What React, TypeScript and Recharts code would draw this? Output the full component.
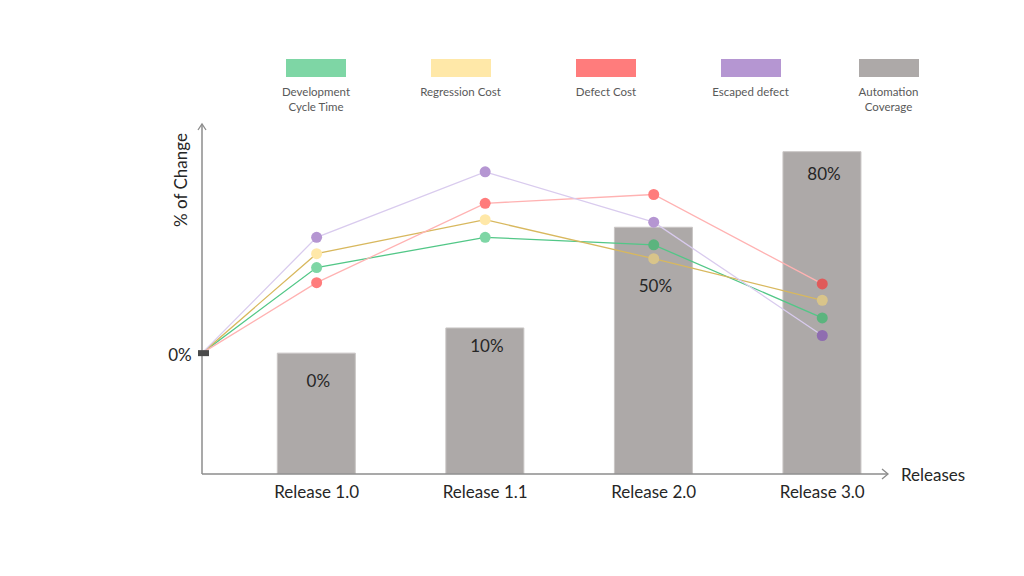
import React from 'react';
import { ComposedChart, Bar, Line, XAxis, YAxis, Legend, LabelList } from 'recharts';

// ---- data ----
const RELEASES = ['Release 1.0', 'Release 1.1', 'Release 2.0', 'Release 3.0'];
const AUTOMATION_COVERAGE = [0, 10, 50, 80];
const DEV_CYCLE_TIME = [34, 46, 43, 14];
const REGRESSION_COST = [39.5, 53, 37.5, 21];
const DEFECT_COST = [28, 59.5, 63, 27.5];
const ESCAPED_DEFECT = [46, 72, 52, 7];
const Y_TICKS = [0];
const BAR_FLOOR = -48; // value at the x axis (bottom of the bars)
const Y_TOP = 91;
const X_START = 0.32; // where the lines start, on the y axis
const X_END = 4.39;

const FONT = 'Lato, "Open Sans", sans-serif';

const SERIES = [
  { key: 'dev', name: 'Development\nCycle Time', values: DEV_CYCLE_TIME, line: '#52c787', dot: '#7ed6a5', dotDark: '#5bb47e' },
  { key: 'reg', name: 'Regression Cost', values: REGRESSION_COST, line: '#d8b85e', dot: '#ffe8a8', dotDark: '#d8c48a' },
  { key: 'def', name: 'Defect Cost', values: DEFECT_COST, line: '#ffb2b2', dot: '#ff7c7c', dotDark: '#e05a5a' },
  { key: 'esc', name: 'Escaped defect', values: ESCAPED_DEFECT, line: '#d9cbee', dot: '#b596d2', dotDark: '#8f6db0' },
];
const BAR_NAME = 'Automation\nCoverage';
const BAR_COLOR = '#ada9a8';

const origin: any = { x: X_START, name: '', coverage: null, range: null };
SERIES.forEach((s) => (origin[s.key] = 0));
const data: any[] = [origin].concat(
  RELEASES.map((name, i) => {
    const row: any = { x: i + 1, name, coverage: AUTOMATION_COVERAGE[i], range: [BAR_FLOOR, AUTOMATION_COVERAGE[i]] };
    SERIES.forEach((s) => (row[s.key] = s.values[i]));
    return row;
  })
);

const labelDrop: Record<number, number> = { 0: 27, 10: 18, 50: 58, 80: 22 };

const makeDot = (s: any) => (props: any) => {
  const { cx, cy, payload, index } = props;
  if (payload.x === X_START || cx == null) return <g key={`d-${s.key}-${index}`} />;
  const inside = payload.coverage != null && payload[s.key] < payload.coverage;
  return <circle key={`d-${s.key}-${index}`} cx={cx} cy={cy} r={5.5} fill={inside ? s.dotDark : s.dot} stroke="none" />;
};

const renderBarLabel = (props: any) => {
  const { x, y, width, value } = props;
  if (value == null) return null;
  const drop = labelDrop[value] ?? 22;
  return (
    <text x={x + width / 2 + 2} y={y + drop} textAnchor="middle" dominantBaseline="central" fontSize={17} fontFamily={FONT} fill="#262626">
      {`${value}%`}
    </text>
  );
};

const renderXTick = (props: any) => {
  const { x, payload, viewBox } = props;
  const axisY = props.y;
  return (
    <text x={x} y={axisY + 17} textAnchor="middle" dominantBaseline="central" fontSize={17} fontFamily={FONT} fill="#262626">
      {RELEASES[payload.value - 1]}
    </text>
  );
};

const renderYTick = (props: any) => {
  const { x, y, payload } = props;
  return (
    <g>
      <rect x={x - 4} y={y - 3} width={11} height={6} fill="#4a4a4a" />
      <text x={x - 22} y={y + 1} textAnchor="middle" dominantBaseline="central" fontSize={17} fontFamily={FONT} fill="#262626">
        {`${payload.value}%`}
      </text>
    </g>
  );
};

const renderXLabel = (props: any) => {
  const { viewBox } = props;
  const ex = viewBox.x + viewBox.width;
  const y = viewBox.y;
  return (
    <g>
      <polyline points={`${ex - 6},${y - 5} ${ex},${y} ${ex - 6},${y + 5}`} fill="none" stroke="#8c8c8c" strokeWidth={1.3} />
      <text x={ex + 13} y={y} dominantBaseline="central" fontSize={17} fontFamily={FONT} fill="#262626">Releases</text>
    </g>
  );
};

const renderYLabel = (props: any) => {
  const { viewBox } = props;
  const x = viewBox.x + viewBox.width;
  const y = viewBox.y;
  return (
    <g>
      <polyline points={`${x - 4},${y + 6} ${x},${y} ${x + 4},${y + 6}`} fill="none" stroke="#8c8c8c" strokeWidth={1.3} />
      <text x={x - 22} y={y + 56} transform={`rotate(-90 ${x - 22} ${y + 56})`} textAnchor="middle" dominantBaseline="central" fontSize={17} fontFamily={FONT} fill="#262626">
        % of Change
      </text>
    </g>
  );
};

const legendItems = SERIES.map((s) => ({ name: s.name, color: s.dot })).concat([{ name: BAR_NAME, color: BAR_COLOR }]);
const legendCenters = [316, 460.5, 606, 750.5, 888.5];

const renderLegend = () => (
  <div style={{ position: 'relative', width: 1024, height: 120 }}>
    {legendItems.map((it, i) => (
      <div key={it.name} style={{ position: 'absolute', left: legendCenters[i] - 70, top: 59, width: 140, display: 'flex', flexDirection: 'column', alignItems: 'center' }}>
        <div style={{ width: 60, height: 18, background: it.color }} />
        <div style={{ marginTop: 8, fontFamily: FONT, fontSize: 11.5, lineHeight: '14.5px', color: '#595959', whiteSpace: 'pre-line', textAlign: 'center' }}>
          {it.name}
        </div>
      </div>
    ))}
  </div>
);

export default function App() {
  return (
    <div style={{ position: 'absolute', left: 0, top: 0, width: 1024, height: 576, background: '#fff' }}>
      <ComposedChart width={1024} height={576} data={data} margin={{ top: 124, right: 136, bottom: 72, left: 172 }}>
        <XAxis
          dataKey="x"
          type="number"
          domain={[X_START, X_END]}
          allowDataOverflow
          ticks={[1, 2, 3, 4]}
          height={30}
          tickLine={false}
          tickSize={0}
          tickMargin={0}
          axisLine={{ stroke: '#8c8c8c', strokeWidth: 1.5 }}
          tick={renderXTick}
          label={renderXLabel}
          interval={0}
        />
        <YAxis
          type="number"
          domain={[BAR_FLOOR, Y_TOP]}
          allowDataOverflow
          ticks={Y_TICKS}
          width={30}
          tickLine={false}
          tickSize={0}
          tickMargin={0}
          axisLine={{ stroke: '#8c8c8c', strokeWidth: 1.5 }}
          tick={renderYTick}
          label={renderYLabel}
        />
        <Legend verticalAlign="middle" align="center" layout="horizontal" wrapperStyle={{ position: 'absolute', top: 0, left: 0, width: 1024, height: 120 }} content={renderLegend} />
        <Bar dataKey="range" name="Automation Coverage" fill={BAR_COLOR} stroke="#c9c5c4" strokeWidth={1} barSize={78} isAnimationActive={false}>
          <LabelList dataKey="coverage" content={renderBarLabel} />
        </Bar>
        {SERIES.map((s) => (
          <Line
            key={s.key}
            dataKey={s.key}
            name={s.name}
            type="linear"
            stroke={s.line}
            strokeWidth={1.3}
            dot={makeDot(s)}
            activeDot={false}
            isAnimationActive={false}
          />
        ))}
      </ComposedChart>
    </div>
  );
}
